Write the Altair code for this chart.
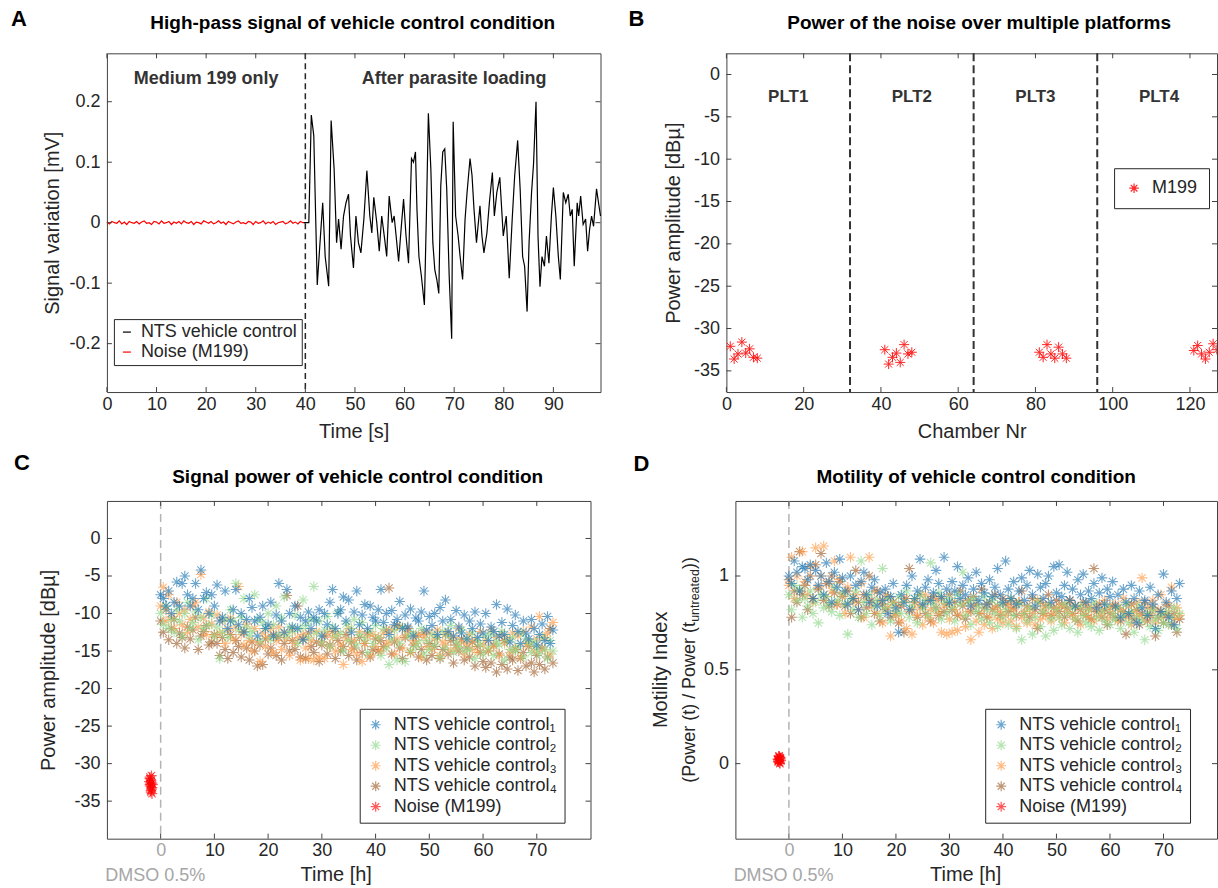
import altair as alt
import pandas as pd

FONT = "Liberation Sans"
TXT = "#262626"
BOX = "#404040"
GREY = "#a6a6a6"
STAR = "M-1,0L1,0M0,-1L0,1M-0.7,-0.7L0.7,0.7M-0.7,0.7L0.7,-0.7"

# ---------------- Panel A data ----------------
noise_t = [0, 0.5, 1, 1.5, 2, 2.5, 3, 3.5, 4, 4.5, 5, 5.5, 6, 6.5, 7, 7.5, 8, 8.5, 9, 9.5,
           10, 10.5, 11, 11.5, 12, 12.5, 13, 13.5, 14, 14.5, 15, 15.5, 16, 16.5, 17, 17.5, 18, 18.5, 19, 19.5,
           20, 20.5, 21, 21.5, 22, 22.5, 23, 23.5, 24, 24.5, 25, 25.5, 26, 26.5, 27, 27.5, 28, 28.5, 29, 29.5,
           30, 30.5, 31, 31.5, 32, 32.5, 33, 33.5, 34, 34.5, 35, 35.5, 36, 36.5, 37, 37.5, 38, 38.5, 39, 39.5, 40]
noise_v = [0.001, -0.002, 0.002, 0.000, -0.001, 0.003, -0.002, 0.001, -0.003, 0.002,
           0.000, -0.001, 0.002, -0.002, 0.001, 0.003, -0.001, 0.000, -0.003, 0.002,
           0.001, -0.002, 0.003, -0.001, 0.000, 0.002, -0.003, 0.001, -0.001, 0.002,
           -0.002, 0.003, 0.000, -0.001, 0.002, -0.003, 0.001, 0.000, -0.002, 0.003,
           0.001, -0.001, 0.002, -0.002, 0.000, 0.003, -0.001, 0.001, -0.003, 0.002,
           0.000, -0.002, 0.001, 0.003, -0.001, 0.000, -0.002, 0.002, 0.001, -0.003,
           0.002, -0.001, 0.000, 0.003, -0.002, 0.001, -0.001, 0.002, -0.003, 0.000,
           0.001, 0.002, -0.002, 0.000, 0.003, -0.001, 0.001, -0.002, 0.002, 0.000, 0.000]
sig_t = [39.7, 40.7, 41.2, 41.7, 42.4, 42.9, 43.5, 44.0, 44.7, 45.2,
         45.8, 46.3, 46.7, 47.2, 47.7, 48.2, 48.7, 49.1, 49.7, 50.2,
         50.7, 51.2, 51.8, 52.4, 53.0, 53.4, 53.8, 54.4, 54.9, 55.4,
         56.0, 56.4, 56.9, 57.5, 57.9, 58.3, 58.8, 59.3, 59.8, 60.3,
         60.8, 61.4, 61.8, 62.2, 62.5, 62.9, 63.4, 64.0, 64.4, 64.8,
         65.3, 65.7, 66.1, 66.5, 66.9, 67.3, 67.7, 68.1, 68.5, 69.0,
         69.5, 69.8, 70.3, 70.8, 71.2, 71.7, 72.2, 72.6, 73.2, 73.6,
         74.0, 74.5, 75.2, 75.6, 76.0, 76.6, 77.1, 77.7, 78.1, 78.6,
         79.2, 79.9, 80.5, 81.1, 81.7, 82.2, 82.8, 83.3, 83.8, 84.2,
         84.7, 85.1, 85.6, 86.0, 86.5, 86.9, 87.3, 87.7, 88.2, 88.6,
         89.1, 89.6, 90.0, 90.5, 91.0, 91.4, 92.0, 92.5, 93.0, 93.4,
         93.8, 94.2, 94.8, 95.1, 95.5, 96.0, 96.5, 96.9, 97.3, 97.7,
         98.1, 98.7, 99.1, 99.5]
sig_v = [0, 0, 0.178, 0.144, -0.103, -0.04, 0.033, -0.056, -0.105, 0.169,
         0.089, -0.033, 0.006, -0.044, 0.011, 0.033, 0.047, -0.022, -0.075, 0.011,
         -0.033, -0.05, 0.006, 0.086, 0.011, -0.017, 0.042, 0, -0.047, 0.011,
         -0.028, -0.056, 0.044, 0, 0.011, -0.022, -0.064, -0.011, 0.039, -0.022,
         -0.067, 0.106, 0.1, 0.117, 0.022, -0.056, -0.089, -0.136, 0.011, 0.181,
         0.089, -0.033, -0.078, -0.094, -0.117, 0.061, 0.117, 0.122, 0.056, -0.089,
         -0.192, 0.167, 0.011, -0.022, -0.056, -0.094, 0.006, 0.05, 0.106, 0.078,
         0.022, -0.033, 0.028, -0.022, -0.05, -0.017, 0.033, 0.083, 0.011, 0.05,
         0.075, -0.022, 0.011, -0.092, 0.006, 0.078, 0.136, 0.056, -0.056, -0.072,
         -0.147, -0.033, 0.05, 0.097, 0.2, -0.022, -0.106, -0.056, -0.072, -0.022,
         -0.067, 0.011, 0.058, 0.011, -0.056, -0.094, 0.05, 0.033, 0.047, 0.011,
         0.022, -0.072, 0.033, 0.011, 0.044, -0.003, 0.006, -0.047, -0.011, 0.011,
         -0.006, 0.056, 0.033, 0.011]
a_labels = ["NTS vehicle control", "Noise (M199)"]
a_regions = ["Medium 199 only", "After parasite loading"]
a_region_x = [20, 70]
a_region_y = [0.238, 0.238]
a_split = [40]
a_xticks = [0, 10, 20, 30, 40, 50, 60, 70, 80, 90]
a_yticks = [-0.2, -0.1, 0, 0.1, 0.2]

# ---------------- Panel B data ----------------
b_chamber = [1, 2, 3, 4, 5, 6, 7, 8,
             41, 42, 43, 44, 45, 46, 47, 48,
             81, 82, 83, 84, 85, 86, 87, 88,
             121, 122, 123, 124, 125, 126, 127, 128]
b_power = [-32.1, -33.6, -33.0, -31.6, -32.9, -32.4, -33.4, -33.5,
           -32.5, -34.2, -33.4, -32.9, -34.0, -31.9, -33.0, -32.8,
           -32.8, -33.4, -31.9, -33.0, -33.5, -32.2, -33.0, -33.5,
           -32.6, -32.0, -33.0, -33.6, -32.8, -31.8, -32.5, -32.8]
b_bounds = [32, 64, 96]
b_plt = ["PLT1", "PLT2", "PLT3", "PLT4"]
b_plt_x = [16, 48, 80, 112]
b_plt_y = [-2.6, -2.6, -2.6, -2.6]
b_xticks = [0, 20, 40, 60, 80, 100, 120]
b_yticks = [-35, -30, -25, -20, -15, -10, -5, 0]

# ---------------- Panels C / D data ----------------
T_H = [0, 0.5, 1, 1.5, 2, 2.5, 3, 3.5, 4, 4.5, 5, 5.5, 6, 6.5, 7, 7.5, 8, 8.5, 9, 9.5, 10,
       10.5, 11, 11.5, 12, 12.5, 13, 13.5, 14, 14.5, 15, 15.5, 16, 16.5, 17, 17.5, 18, 18.5, 19, 19.5, 20,
       20.5, 21, 21.5, 22, 22.5, 23, 23.5, 24, 24.5, 25, 25.5, 26, 26.5, 27, 27.5, 28, 28.5, 29, 29.5, 30,
       30.5, 31, 31.5, 32, 32.5, 33, 33.5, 34, 34.5, 35, 35.5, 36, 36.5, 37, 37.5, 38, 38.5, 39, 39.5, 40,
       40.5, 41, 41.5, 42, 42.5, 43, 43.5, 44, 44.5, 45, 45.5, 46, 46.5, 47, 47.5, 48, 48.5, 49, 49.5, 50,
       50.5, 51, 51.5, 52, 52.5, 53, 53.5, 54, 54.5, 55, 55.5, 56, 56.5, 57, 57.5, 58, 58.5, 59, 59.5, 60,
       60.5, 61, 61.5, 62, 62.5, 63, 63.5, 64, 64.5, 65, 65.5, 66, 66.5, 67, 67.5, 68, 68.5, 69, 69.5, 70,
       70.5, 71, 71.5, 72, 72.5, 73]

c1 = [-7.5, -8, -9, -7, -10, -8.5, -5.8, -9, -6, -5, -7.5, -9, -8, -6, -9.5, -4.2, -8, -7.2, -10, -7.5, -9,
      -6.2, -11, -10.5, -7, -12, -11, -9.5, -6.8, -11.5, -10, -12.5, -10.8, -8, -9.2, -11, -13, -10.5, -9, -12, -11.5,
      -8.5, -13, -10.2, -6, -11, -12.5, -6.8, -10, -11.8, -9, -12, -10.5, -13.5, -11, -9.8, -12, -10.5, -11, -9.5, -13,
      -10, -11.5, -8.5, -6.8, -12, -10, -9.5, -7.8, -11, -8.2, -12.5, -9.8, -7, -11.5, -10.2, -8.8, -12, -9, -10.5, -11,
      -9.5, -6.8, -11.2, -10, -12.8, -9.6, -11.5, -10.8, -8.4, -12, -10.2, -11.8, -9.4, -13, -10.6, -11, -9.8, -7, -12.2, -10.4,
      -11.6, -10, -12.8, -9.2, -11, -8.2, -12.4, -10.8, -13, -9.6, -11.8, -12.6, -10.2, -13.4, -11, -12, -9.8, -13.2, -11.4, -12.6,
      -10, -13.6, -11.8, -12.4, -8.8, -13, -11.2, -12.8, -9.4, -13.8, -11.6, -10.2, -12.4, -14, -11, -12.6, -13.4, -10.8, -12, -14.2,
      -12.8, -11.4, -13.6, -10.4, -14, -12.2]
c2 = [-10, -11.5, -9, -12, -10.8, -12.5, -9.5, -11, -13, -10, -8.5, -12, -11.2, -9.8, -13.5, -10.5, -12, -8, -11.5, -10.2, -13,
      -11.8, -16, -12.5, -10.8, -13.2, -9.5, -11, -6, -12.2, -10.5, -8, -11.8, -13, -12.4, -7.5, -10.8, -13.6, -11.2, -12, -10,
      -13.4, -11.5, -9, -12.8, -10.6, -7.8, -13, -11.8, -12.4, -10.2, -14, -12, -8.2, -11.6, -13.2, -10.8, -6.4, -12.6, -11, -13.8,
      -12.2, -10.4, -14.4, -11.8, -13, -9.8, -12.6, -15, -11.4, -13.6, -12, -10.8, -14.2, -12.8, -11.2, -13.4, -15.2, -12.4, -14, -11.6,
      -13.2, -15.6, -12, -14.6, -16.8, -13.4, -12.2, -16.2, -14, -11.8, -16.4, -13, -15, -12.6, -14.4, -13.8, -12, -15.4, -13.6, -14.8,
      -12.8, -14.2, -13.2, -15.8, -12.4, -14.6, -13, -11.6, -15.2, -13.8, -14.4, -12.2, -15, -13.4, -14.8, -12.6, -16, -13.6, -14.2, -15.4,
      -13, -14.6, -12.8, -15.6, -13.8, -14.2, -12.4, -16.2, -13.6, -14.8, -13.2, -15, -14.4, -12.6, -15.8, -13.4, -14, -15.2, -13.8, -14.6,
      -15.4, -13.2, -14.8, -16, -13.6, -15]
c3 = [-9, -6.5, -11, -7.5, -10.5, -12, -8.5, -10, -11.5, -9.5, -12.5, -10.8, -9, -8.5, -11.8, -4.8, -10.6, -12.8, -9.8, -11.4, -13,
      -10.2, -12.6, -11, -14, -12.2, -10.6, -13.4, -11.8, -6.4, -12.8, -14.2, -11.4, -13.6, -15, -12, -13.8, -16.4, -12.6, -14.4, -13.2,
      -12, -15.2, -13.6, -11.8, -14.8, -12.6, -13.4, -15.6, -12.2, -14, -13.2, -16.2, -12.8, -14.6, -16, -13.6, -16.2, -12.4, -15.8, -13.8,
      -16, -12.6, -14.4, -13.2, -15, -12.8, -14.2, -16.8, -13.4, -12, -14.8, -13.6, -15.4, -12.4, -16.4, -14, -13, -15.6, -12.8, -14.4,
      -13.2, -15, -12.6, -14.2, -13.8, -12.2, -15.4, -13.4, -11.8, -14.6, -13, -12.4, -15.2, -13.6, -14, -12.8, -15.8, -13.2, -14.4, -12.6,
      -14.8, -13.4, -12.2, -15.6, -13.8, -14.2, -12.6, -15, -13.2, -14.6, -12, -13.8, -15.4, -14, -12.8, -14.8, -13.6, -15.2, -12.4, -14.2,
      -13.6, -15, -12.2, -14.4, -13.2, -15.6, -12.8, -14, -13.4, -15.2, -12.6, -14.6, -13, -15.8, -12.4, -14.2, -13.8, -11.8, -15, -13.4,
      -10.4, -14.8, -13.2, -12.6, -15.4, -11.2]
c4 = [-11, -12.5, -9.5, -13.5, -12, -10.8, -14, -12.6, -13.2, -14.6, -11.8, -13.4, -12.2, -10.5, -14.8, -13, -12.4, -11.6, -14.2, -13.8, -12.8,
      -14, -15.6, -13.2, -14.8, -16, -12.8, -15.2, -13.6, -14.4, -15.8, -12.4, -14.6, -16.2, -13.8, -15, -17, -14.2, -16.8, -13.4, -15.4,
      -14.6, -12.8, -15.6, -13.2, -16.2, -14, -7.6, -15, -13.6, -14.8, -9, -15.8, -13.4, -16, -12.6, -14.4, -15.2, -13.8, -16.4, -14.2,
      -13, -15.4, -14.2, -12.4, -16, -13.6, -15, -14.4, -12.8, -15.6, -13.8, -14.6, -16.2, -13.2, -15.2, -14, -12.6, -15.8, -14.8, -13.4,
      -15, -13.6, -14.4, -12.2, -6.6, -15.4, -13.8, -11.6, -14.6, -16, -13.2, -12, -15.2, -14.2, -13, -15.8, -14.8, -12.6, -16.2, -14,
      -15.6, -14.4, -13.2, -16, -14.8, -12.8, -15.4, -13.6, -16.6, -14.2, -15, -13.4, -16.2, -14.6, -15.8, -13.8, -17, -14.4, -15.2, -16.4,
      -17.2, -15, -16.6, -14.2, -17.8, -15.4, -16.8, -13.6, -17.4, -15.8, -16.2, -14.8, -17.6, -16, -15.2, -17, -14.4, -16.6, -17.8, -15.6,
      -16.8, -14.6, -17.4, -15.8, -12, -16.6]
c_noise_t = [-2.0, -1.8, -1.6, -1.9, -1.7, -2.1, -1.5, -1.8, -2.0, -1.6, -1.9, -1.7, -1.8, -2.0, -1.6]
c_noise_v = [-31.8, -32.2, -32.6, -33.0, -33.4, -32.4, -32.8, -33.8, -32.0, -33.2, -32.6, -31.6, -33.6, -32.8, -34.0]

d1 = [1.0, 0.96, 1.08, 1.02, 0.92, 1.05, 1.04, 0.98, 1.06, 0.88, 1.03, 0.95, 1.0, 0.9, 1.07, 0.97, 0.86, 1.02, 0.94, 1.09, 0.99,
      0.92, 0.85, 1.0, 0.88, 0.95, 0.82, 0.97, 1.02, 0.9, 0.86, 0.94, 0.98, 0.84, 0.91, 0.87, 0.93, 0.8, 0.89, 0.96, 0.83,
      0.7, 0.9, 0.86, 0.95, 0.82, 1.0, 0.88, 0.92, 1.09, 0.85, 0.94, 0.98, 0.87, 0.91, 1.03, 0.96, 0.89, 1.1, 0.93, 0.86,
      0.97, 0.92, 1.05, 0.88, 0.95, 0.9, 0.99, 0.84, 0.93, 1.02, 0.87, 0.96, 0.91, 0.85, 0.98, 0.89, 0.94, 1.04, 0.9, 0.86,
      1.08, 0.93, 0.88, 0.97, 0.85, 0.92, 0.99, 0.87, 0.95, 1.03, 0.9, 0.84, 1.01, 0.94, 0.88, 0.96, 1.0, 0.86, 1.05, 0.91,
      1.06, 0.89, 0.95, 1.02, 0.87, 0.93, 0.84, 0.98, 0.9, 1.01, 0.86, 0.92, 0.88, 0.96, 0.83, 0.91, 0.99, 0.85, 0.93, 0.89,
      0.97, 0.84, 0.9, 0.78, 0.93, 0.86, 0.8, 0.95, 0.88, 0.75, 0.92, 0.83, 0.87, 0.79, 0.94, 0.85, 0.72, 0.9, 0.81, 1.01,
      0.86, 0.78, 0.92, 0.74, 0.88, 0.96]
d2 = [0.9, 0.82, 0.95, 0.87, 0.93, 0.78, 0.88, 0.84, 0.92, 0.8, 0.86, 0.75, 0.9, 0.83, 0.89, 0.85, 0.81, 0.94, 0.87, 0.79, 0.91,
      0.85, 0.69, 0.88, 0.82, 0.92, 0.78, 1.08, 0.86, 0.8, 0.9, 0.74, 0.84, 0.87, 0.79, 1.04, 0.83, 0.88, 0.76, 0.85, 0.81,
      0.89, 0.8, 0.86, 0.92, 0.78, 0.84, 0.88, 0.75, 0.9, 0.83, 0.87, 0.79, 1.07, 0.85, 0.82, 0.91, 0.77, 0.86, 0.8, 0.88,
      0.83, 0.76, 0.9, 0.85, 1.02, 0.79, 0.86, 0.74, 0.88, 0.81, 0.84, 0.77, 0.89, 0.82, 0.75, 0.87, 0.8, 0.73, 0.85, 0.78,
      0.82, 0.74, 0.88, 0.79, 0.72, 0.85, 0.66, 0.8, 0.76, 0.83, 0.69, 0.78, 0.86, 0.73, 0.81, 0.68, 0.84, 0.77, 0.71, 0.82,
      0.78, 0.74, 0.85, 0.8, 0.72, 0.83, 0.77, 0.7, 0.84, 0.79, 0.75, 0.82, 0.73, 0.86, 0.78, 0.71, 0.81, 0.76, 0.84, 0.74,
      0.8, 0.77, 0.83, 0.72, 0.79, 0.85, 0.75, 0.81, 0.7, 0.78, 0.84, 0.76, 0.66, 0.8, 0.73, 0.82, 0.77, 0.71, 0.79, 0.75,
      0.81, 0.74, 0.78, 0.83, 0.72, 0.8]
d3 = [0.95, 1.1, 0.88, 1.0, 0.92, 1.13, 0.97, 0.9, 1.05, 0.86, 1.15, 0.94, 1.0, 1.16, 0.89, 0.96, 0.92, 1.08, 0.85, 0.98, 0.9,
      0.8, 0.94, 1.1, 0.86, 0.9, 0.82, 0.96, 0.78, 0.88, 1.1, 0.84, 0.92, 0.8, 0.87, 0.75, 0.9, 0.83, 0.68, 0.86, 0.79,
      0.84, 0.76, 0.88, 0.72, 0.81, 0.69, 0.86, 0.79, 0.83, 0.74, 0.9, 0.78, 0.82, 0.75, 0.87, 0.8, 0.7, 0.84, 0.69, 0.77,
      0.7, 0.82, 0.71, 0.79, 0.86, 0.73, 0.81, 0.66, 0.84, 0.76, 0.7, 0.8, 0.74, 0.85, 0.78, 0.72, 0.83, 0.77, 0.81, 0.75,
      0.79, 0.84, 0.76, 0.82, 0.73, 0.86, 0.78, 0.81, 0.75, 0.83, 0.8, 0.74, 0.87, 0.77, 0.82, 0.79, 0.85, 0.76, 0.8, 0.83,
      0.78, 0.84, 0.75, 0.81, 0.86, 0.79, 0.77, 0.83, 0.74, 0.8, 0.85, 0.78, 0.82, 0.76, 0.84, 0.79, 0.81, 0.87, 0.77, 0.83,
      0.8, 0.85, 0.76, 0.82, 0.88, 0.78, 0.84, 0.74, 0.81, 0.86, 0.79, 0.99, 0.77, 0.83, 0.8, 0.87, 0.75, 0.82, 0.9, 0.78,
      0.85, 0.8, 0.94, 0.77, 0.83, 0.79]
d4 = [0.98, 0.78, 0.92, 0.86, 1.13, 0.9, 0.95, 0.82, 1.0, 0.88, 1.06, 0.93, 1.12, 0.87, 0.96, 0.84, 1.0, 0.91, 0.85, 0.97, 0.89,
      0.84, 0.92, 0.8, 0.88, 1.03, 0.86, 0.78, 0.9, 0.83, 1.0, 0.87, 0.8, 0.92, 0.76, 0.85, 0.82, 0.89, 0.78, 0.86, 0.8,
      0.75, 0.84, 0.7, 0.88, 1.04, 0.82, 0.86, 0.78, 0.9, 0.84, 0.8, 0.87, 0.76, 0.89, 0.83, 0.79, 0.88, 0.81, 0.85, 0.9,
      0.82, 0.86, 0.79, 0.92, 0.84, 0.77, 0.87, 0.81, 0.89, 0.85, 0.8, 0.93, 0.83, 0.78, 0.86, 0.82, 0.9, 0.84, 0.79, 0.88,
      0.85, 0.81, 0.87, 0.83, 0.79, 0.86, 0.92, 0.8, 0.84, 0.78, 0.88, 0.82, 0.72, 0.86, 0.8, 0.84, 0.9, 0.79, 0.83, 0.87,
      0.81, 0.85, 0.78, 0.83, 0.87, 0.8, 0.84, 0.76, 0.82, 0.86, 0.79, 0.83, 0.77, 1.04, 0.81, 0.85, 0.78, 0.82, 0.74, 0.8,
      0.84, 0.78, 0.83, 0.76, 0.81, 0.69, 0.79, 0.85, 0.77, 0.82, 0.74, 0.8, 0.86, 0.76, 0.79, 0.83, 0.68, 0.78, 0.81, 0.75,
      0.79, 0.84, 0.74, 0.8, 0.7, 0.77]
d_noise_t = [-2.0, -1.8, -1.6, -1.9, -1.7, -2.1, -1.5, -1.8, -2.0, -1.6, -1.9, -1.7, -1.8, -2.0, -1.6]
d_noise_v = [0.01, 0.03, 0.02, 0.04, 0.0, 0.025, 0.015, 0.035, 0.01, 0.03, 0.02, 0.005, 0.04, 0.02, 0.03]

cd_labels = ["NTS vehicle control\u2081", "NTS vehicle control\u2082",
             "NTS vehicle control\u2083", "NTS vehicle control\u2084", "Noise (M199)"]
cd_colors = ["#1f77b4", "#8fd889", "#ff9a45", "#a0612e", "#ff0000"]
cd_xticks = [0, 10, 20, 30, 40, 50, 60, 70]
c_yticks = [-35, -30, -25, -20, -15, -10, -5, 0]
d_yticks = [0, 0.5, 1]
cd_zero = [0]

# ---------------- layout ----------------
WA, HT = 494, 339
WB = 491
WC, HB = 484, 338
WD = 482


def txt(s, x, y, size, bold=False, color="#000000", align="center", angle=0):
    kw = dict(align=align, baseline="middle", font=FONT, fontSize=size,
              fontWeight="bold" if bold else "normal", color=color)
    if angle:
        kw["angle"] = angle
    return alt.Chart(pd.DataFrame({"s": [s]})).mark_text(**kw).encode(
        text="s:N", x=alt.value(x), y=alt.value(y))


def xaxis(title, values, tpad=5, **kw):
    return alt.Axis(values=values, title=title, ticks=False, domain=False, grid=False,
                    labelFont=FONT, labelFontSize=18, labelColor=kw.pop("labelColor", TXT),
                    labelPadding=3, labelFlush=False, labelOverlap=False,
                    titleFont=FONT, titleFontSize=20, titleFontWeight="normal", titleColor=TXT,
                    titlePadding=tpad, labelExpr="datum.value + ''", **kw)


def yaxis(title, values, tpad=10, **kw):
    return alt.Axis(values=values, title=title, ticks=False, domain=False, grid=False,
                    labelFont=FONT, labelFontSize=18, labelColor=TXT, labelPadding=7,
                    labelFlush=False, labelOverlap=False,
                    titleFont=FONT, titleFontSize=20, titleFontWeight="normal", titleColor=TXT,
                    titlePadding=tpad, labelExpr="datum.value + ''", **kw)


def box_ticks(xvals, yvals, xf, yf, xs, ys, w, h, L=5):
    dx = pd.DataFrame({xf: xvals})
    dy = pd.DataFrame({yf: yvals})
    rx = alt.Chart(dx).mark_rule(color=BOX, strokeWidth=1)
    ry = alt.Chart(dy).mark_rule(color=BOX, strokeWidth=1)
    X = alt.X(f"{xf}:Q", scale=xs)
    Y = alt.Y(f"{yf}:Q", scale=ys)
    return [
        rx.encode(x=X, y=alt.value(h), y2=alt.value(h - L)),
        rx.encode(x=X, y=alt.value(0), y2=alt.value(L)),
        ry.encode(y=Y, x=alt.value(0), x2=alt.value(L)),
        ry.encode(y=Y, x=alt.value(w), x2=alt.value(w - L)),
    ]


def legend(x, y, stype, ssize, pad=5, rowpad=2, loff=9):
    return alt.Legend(orient="none", legendX=x, legendY=y, title=None, fillColor="white",
                      strokeColor=TXT, padding=pad, labelFont=FONT, labelFontSize=18,
                      labelColor=TXT, labelLimit=400, symbolType=stype, symbolSize=ssize,
                      symbolStrokeWidth=1.2, rowPadding=rowpad, labelOffset=loff, offset=0)


# ---- Panel A ----
xsA = alt.Scale(domain=[0, 99.5], nice=False, zero=False)
ysA = alt.Scale(domain=[-0.28, 0.28], nice=False, zero=False)
dfA = pd.concat([
    pd.DataFrame({"t": noise_t, "v": noise_v, "series_a": a_labels[1]}),
    pd.DataFrame({"t": sig_t, "v": sig_v, "series_a": a_labels[0]}),
])
linesA = alt.Chart(dfA).mark_line(strokeWidth=1.2).encode(
    x=alt.X("t:Q", scale=xsA, axis=xaxis("Time [s]", a_xticks, tpad=8)),
    y=alt.Y("v:Q", scale=ysA, axis=yaxis("Signal variation [mV]", a_yticks, tpad=6)),
    color=alt.Color("series_a:N", scale=alt.Scale(domain=a_labels, range=["#000000", "#ff0000"]),
                    legend=legend(7, 266, "stroke", 64, pad=4, loff=5)),
    order=alt.Order("t:Q"),
)
splitA = alt.Chart(pd.DataFrame({"t": a_split})).mark_rule(
    color=TXT, strokeWidth=1.5, strokeDash=[6, 4]).encode(x=alt.X("t:Q", scale=xsA))
regA = alt.Chart(pd.DataFrame({"t": a_region_x, "v": a_region_y, "s": a_regions})).mark_text(
    font=FONT, fontSize=18, fontWeight="bold", color="#333333").encode(
    x=alt.X("t:Q", scale=xsA), y=alt.Y("v:Q", scale=ysA), text="s:N")
panelA = alt.layer(
    linesA, splitA, regA, *box_ticks(a_xticks, a_yticks, "t", "v", xsA, ysA, WA, HT),
    txt("A", -88, -34, 22, bold=True),
    txt("High-pass signal of vehicle control condition", 246, -30, 19, bold=True),
).properties(width=WA, height=HT)

# ---- Panel B ----
xsB = alt.Scale(domain=[0, 127], nice=False, zero=False)
ysB = alt.Scale(domain=[-37.5, 2.5], nice=False, zero=False)
dfB = pd.DataFrame({"c": b_chamber, "p": b_power, "series_b": "M199"})
ptsB = alt.Chart(dfB).mark_point(shape=STAR, filled=False, size=100, strokeWidth=1,
                                 opacity=0.85, clip=True).encode(
    x=alt.X("c:Q", scale=xsB, axis=xaxis("Chamber Nr", b_xticks, tpad=8)),
    y=alt.Y("p:Q", scale=ysB, axis=yaxis("Power amplitude [dB\u00b5]", b_yticks)),
    color=alt.Color("series_b:N", scale=alt.Scale(domain=["M199"], range=["#ff0000"]),
                    legend=legend(388, 115, STAR, 90, pad=11)),
)
boundsB = alt.Chart(pd.DataFrame({"c": b_bounds})).mark_rule(
    color="#333333", strokeWidth=2, strokeDash=[8, 4]).encode(x=alt.X("c:Q", scale=xsB))
pltB = alt.Chart(pd.DataFrame({"c": b_plt_x, "p": b_plt_y, "s": b_plt})).mark_text(
    font=FONT, fontSize=17, fontWeight="bold", color="#333333").encode(
    x=alt.X("c:Q", scale=xsB), y=alt.Y("p:Q", scale=ysB), text="s:N")
panelB = alt.layer(
    boundsB, ptsB, pltB, *box_ticks(b_xticks, b_yticks, "c", "p", xsB, ysB, WB, HT),
    txt("B", -90, -34, 22, bold=True),
    txt("Power of the noise over multiple platforms", 253, -30, 19, bold=True),
).properties(width=WB, height=HT)


# ---- Panels C, D ----
def scatter_df(series, ntv, nvv):
    parts = []
    for lab, vals in reversed(list(zip(cd_labels[:4], series))):
        parts.append(pd.DataFrame({"t": T_H[:len(vals)], "v": vals[:len(T_H)], "s": lab}))
    parts.append(pd.DataFrame({"t": ntv, "v": nvv, "s": cd_labels[4]}))
    return pd.concat(parts)


zero_lab = {"condition": {"test": "datum.value === 0", "value": GREY}, "value": TXT}

xsC = alt.Scale(domain=[-10, 80], nice=False, zero=False)
ysC = alt.Scale(domain=[-40, 5], nice=False, zero=False)
dfC = scatter_df([c1, c2, c3, c4], c_noise_t, c_noise_v)
ptsC = alt.Chart(dfC).mark_point(shape=STAR, filled=False, size=110, strokeWidth=1.1, opacity=0.65).encode(
    x=alt.X("t:Q", scale=xsC, axis=xaxis("Time [h]", cd_xticks, tpad=5, labelColor=zero_lab, titleX=229)),
    y=alt.Y("v:Q", scale=ysC, axis=yaxis("Power amplitude [dB\u00b5]", c_yticks, tpad=15)),
    color=alt.Color("s:N", scale=alt.Scale(domain=cd_labels, range=cd_colors),
                    legend=legend(253, 208, STAR, 100, pad=7, rowpad=2.5)),
)
zeroC = alt.Chart(pd.DataFrame({"t": cd_zero})).mark_rule(
    color="#b3b3b3", strokeWidth=1.5, strokeDash=[8, 5]).encode(x=alt.X("t:Q", scale=xsC))
dmsoC = alt.Chart(pd.DataFrame({"t": [-1], "s": ["DMSO 0.5%"]})).mark_text(
    font=FONT, fontSize=18, color=GREY).encode(x=alt.X("t:Q", scale=xsC), y=alt.value(HB + 37), text="s:N")
panelC = alt.layer(
    zeroC, ptsC, dmsoC, *box_ticks(cd_xticks, c_yticks, "t", "v", xsC, ysC, WC, HB),
    txt("C", -85, -38, 22, bold=True),
    txt("Signal power of vehicle control condition", 251, -24, 19, bold=True),
).properties(width=WC, height=HB)

xsD = alt.Scale(domain=[-10, 80], nice=False, zero=False)
ysD = alt.Scale(domain=[-0.4, 1.4], nice=False, zero=False)
dfD = scatter_df([d1, d2, d3, d4], d_noise_t, d_noise_v)
ptsD = alt.Chart(dfD).mark_point(shape=STAR, filled=False, size=110, strokeWidth=1.1, opacity=0.65).encode(
    x=alt.X("t:Q", scale=xsD, axis=xaxis("Time [h]", cd_xticks, tpad=5, labelColor=zero_lab, titleX=230)),
    y=alt.Y("v:Q", scale=ysD, axis=yaxis(None, d_yticks)),
    color=alt.Color("s:N", scale=alt.Scale(domain=cd_labels, range=cd_colors),
                    legend=legend(250, 208, STAR, 100, pad=7, rowpad=2.5)),
)
zeroD = alt.Chart(pd.DataFrame({"t": cd_zero})).mark_rule(
    color="#b3b3b3", strokeWidth=1.5, strokeDash=[8, 5]).encode(x=alt.X("t:Q", scale=xsD))
dmsoD = alt.Chart(pd.DataFrame({"t": [-1], "s": ["DMSO 0.5%"]})).mark_text(
    font=FONT, fontSize=18, color=GREY).encode(x=alt.X("t:Q", scale=xsD), y=alt.value(HB + 37), text="s:N")
ymid = HB / 2
y0 = ymid + 113
panelD = alt.layer(
    zeroD, ptsD, dmsoD, *box_ticks(cd_xticks, d_yticks, "t", "v", xsD, ysD, WD, HB),
    txt("Motility Index", -74, ymid, 20, color=TXT, angle=270),
    txt("(Power (t) / Power (t", -45, y0, 18, color=TXT, align="left", angle=270),
    txt("untreated", -40, y0 - 161, 12.5, color=TXT, align="left", angle=270),
    txt("))", -45, y0 - 161 - 53, 18, color=TXT, align="left", angle=270),
    txt("D", -94, -37, 22, bold=True),
    txt("Motility of vehicle control condition", 241, -24, 19, bold=True),
).properties(width=WD, height=HB)

row1 = alt.hconcat(panelA, panelB, spacing=126, bounds="flush").resolve_scale(
    x="independent", y="independent", color="independent").resolve_legend(color="independent")
row2 = alt.hconcat(panelC, panelD, spacing=145, bounds="flush").resolve_scale(
    x="independent", y="independent", color="independent").resolve_legend(color="independent")
chart = alt.vconcat(row1, row2, spacing=9).resolve_scale(
    x="independent", y="independent", color="independent").resolve_legend(color="independent")

chart = chart.properties(
    padding={"left": 10, "top": 7, "right": 0, "bottom": 0},
    background="white",
).configure_view(stroke=BOX, strokeWidth=1).configure_legend(strokeWidth=1)

chart.save("out.html", embed_options={"renderer": "svg", "actions": False})
